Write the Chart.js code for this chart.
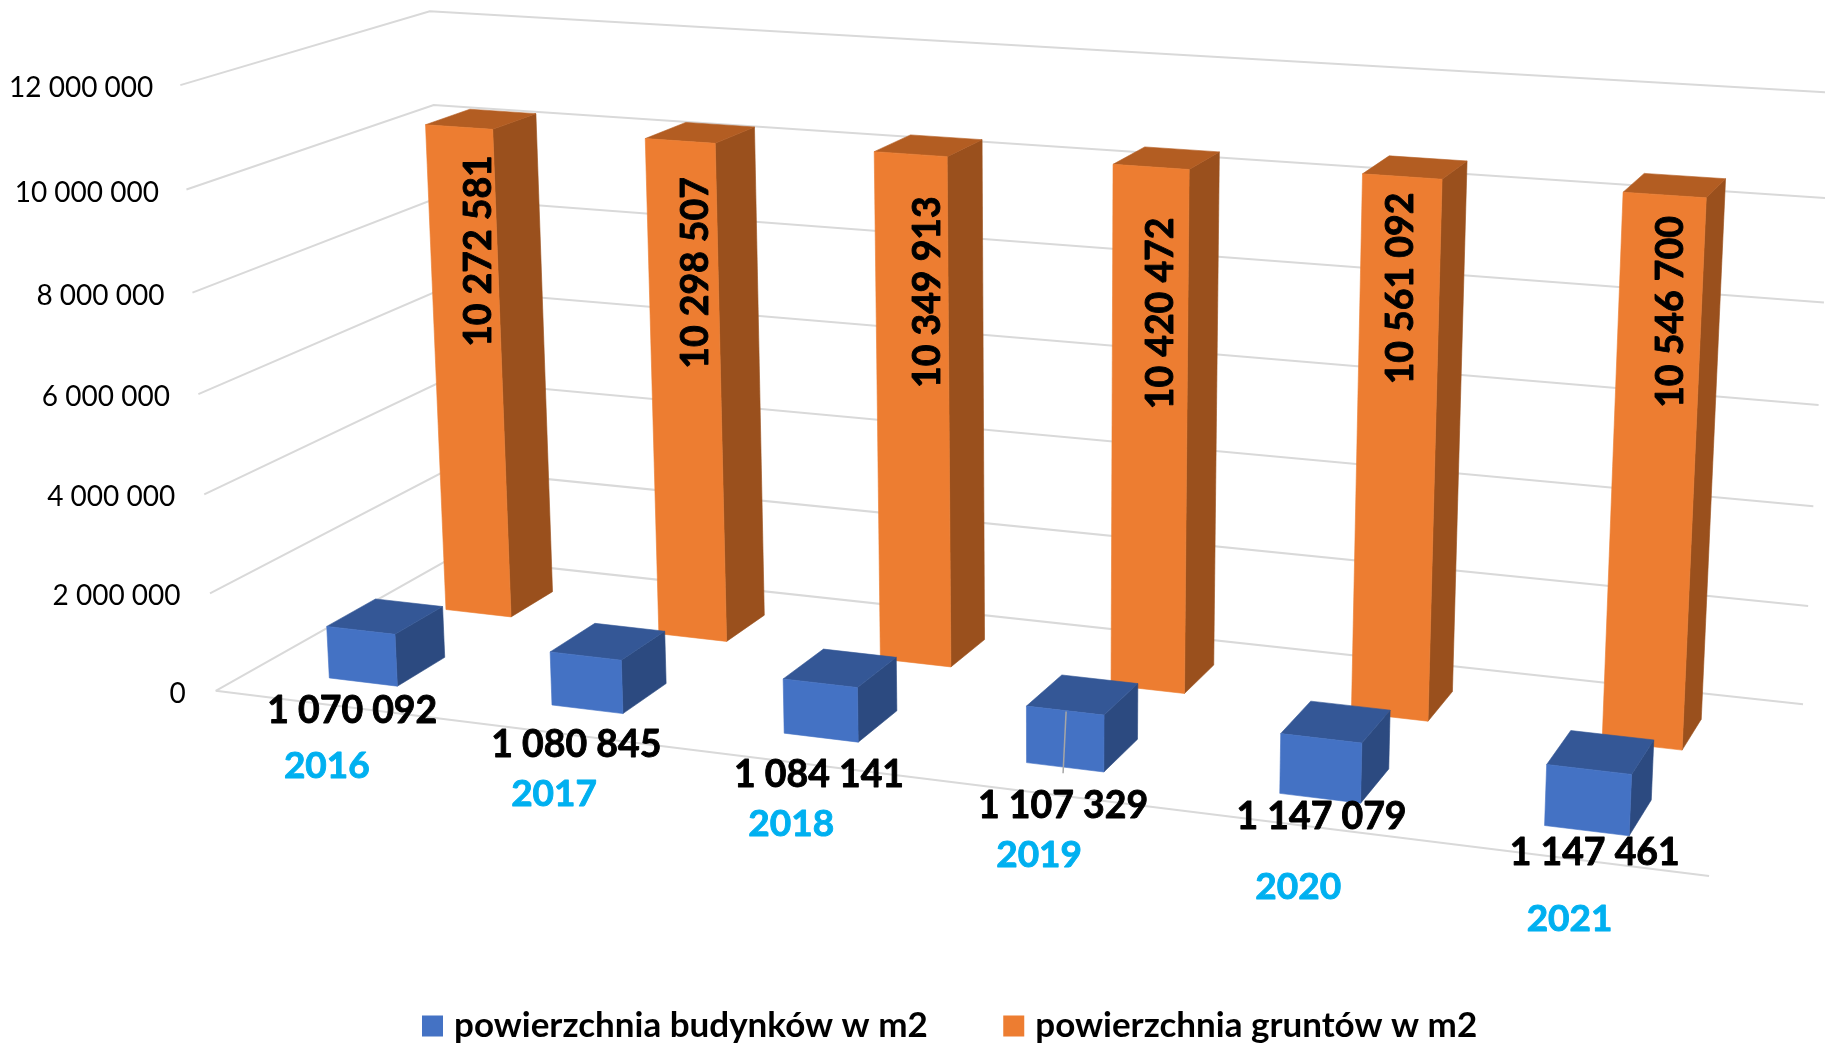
<!DOCTYPE html>
<html lang="pl">
<head>
<meta charset="utf-8">
<title>powierzchnia budynków i gruntów</title>
<style>html,body{margin:0;padding:0;background:#fff}canvas{display:block}</style>
<script src="https://cdn.jsdelivr.net/npm/chart.js@4/dist/chart.umd.js"></script>
</head>
<body>
<canvas id="c" width="1825" height="1044"></canvas>
<script>
const categories = ['2016', '2017', '2018', '2019', '2020', '2021'];
const buildingAreas = [1070092, 1080845, 1084141, 1107329, 1147079, 1147461];
const landAreas = [10272581, 10298507, 10349913, 10420472, 10561092, 10546700];
const seriesNames = ['powierzchnia budynków w m2', 'powierzchnia gruntów w m2'];

// ---- view styling, separate from the data ----
const FONT = 'Lato, Carlito, Calibri, sans-serif';
// camera calibration: box coordinates [x, value, depth] -> screen
const calibration = [
  [0, 0, 0, 215, 691], [1, 0, 0, 1709, 876], [0, 0, 1, 454, 557], [1, 0, 1, 1803, 704],
  [0, 1, 0, 182, 85], [0, 1, 1, 429, 11], [1, 1, 1, 1835, 92.6],
  [0, 0.5, 0, 197.5, 394], [0, 0.5, 1, 440.5, 290], [1, 0.5, 1, 1818.5, 405.5]
];
const blueLabelShift = [[-11, 29], [-11, 36], [-2, 37], [-2, 39], [1.5, 18.5], [8, 22]];
const orangeLabelShift = [[20, 124], [16, 132], [17, 138], [10, 146.5], [-1, 112], [6, 117]];
const yearLabelShift = [[1, 62], [1, 61], [1, 62], [1, 62], [1, 62], [1, 61]];

function solveCamera(pts) {
  const rows = [], rhs = [];
  pts.forEach(([x, y, z, u, v]) => {
    rows.push([x, y, z, 1, 0, 0, 0, 0, -u * x, -u * y, -u * z]); rhs.push(u);
    rows.push([0, 0, 0, 0, x, y, z, 1, -v * x, -v * y, -v * z]); rhs.push(v);
  });
  const n = 11, A = [];
  for (let i = 0; i < n; i++) {
    A.push(new Array(n + 1).fill(0));
    for (let j = 0; j < n; j++) rows.forEach(r => { A[i][j] += r[i] * r[j]; });
    rows.forEach((r, k) => { A[i][n] += r[i] * rhs[k]; });
  }
  for (let c = 0; c < n; c++) {
    let p = c;
    for (let r = c + 1; r < n; r++) if (Math.abs(A[r][c]) > Math.abs(A[p][c])) p = r;
    [A[c], A[p]] = [A[p], A[c]];
    for (let r = 0; r < n; r++) {
      if (r === c) continue;
      const f = A[r][c] / A[c][c];
      for (let j = c; j <= n; j++) A[r][j] -= f * A[c][j];
    }
  }
  return A.map((row, i) => row[n] / row[i]);
}
const cam = solveCamera(calibration);
function project(x, v, z) {
  const w = cam[8] * x + cam[9] * v + cam[10] * z + 1;
  return [(cam[0] * x + cam[1] * v + cam[2] * z + cam[3]) / w,
          (cam[4] * x + cam[5] * v + cam[6] * z + cam[7]) / w];
}
function poly(ctx, pts, fill) {
  ctx.beginPath();
  pts.forEach((p, i) => i ? ctx.lineTo(p[0], p[1]) : ctx.moveTo(p[0], p[1]));
  ctx.closePath();
  ctx.fillStyle = fill;
  ctx.strokeStyle = fill;
  ctx.lineWidth = 0.6;
  ctx.fill();
  ctx.stroke();
}
const spaced = n => String(n).replace(/\B(?=(\d{3})+(?!\d))/g, ' ');
function heavyText(ctx, s, x, y) {
  ctx.lineWidth = 0.9;
  ctx.strokeStyle = ctx.fillStyle;
  ctx.lineJoin = 'round';
  ctx.strokeText(s, x, y);
  ctx.fillText(s, x, y);
}

class Bar3D extends Chart.BarElement {
  static id = 'bar3d';
  corners(area, zr) {
    const { x, y, base, width } = this.getProps(['x', 'y', 'base', 'width'], true);
    const x0 = (x - width / 2 - area.left) / area.width;
    const x1 = (x + width / 2 - area.left) / area.width;
    const v0 = (area.bottom - base) / area.height;
    const v1 = (area.bottom - y) / area.height;
    return { x0, x1, v0, v1, z0: zr[0], z1: zr[1] };
  }
  draw(ctx, area, ds) {
    if (!area) return;
    const c = this.corners(area, ds.depthRange);
    const P = (x, v, z) => project(x, v, z);
    ctx.save();
    poly(ctx, [P(c.x1, c.v0, c.z0), P(c.x1, c.v0, c.z1), P(c.x1, c.v1, c.z1), P(c.x1, c.v1, c.z0)], ds.sideColor);
    poly(ctx, [P(c.x0, c.v1, c.z0), P(c.x1, c.v1, c.z0), P(c.x1, c.v1, c.z1), P(c.x0, c.v1, c.z1)], ds.topColor);
    poly(ctx, [P(c.x0, c.v0, c.z0), P(c.x1, c.v0, c.z0), P(c.x1, c.v1, c.z0), P(c.x0, c.v1, c.z0)], this.options.backgroundColor);
    ctx.restore();
  }
}
class Bar3DController extends Chart.BarController {
  static id = 'bar3d';
  static defaults = Object.assign({}, Chart.BarController.defaults, { dataElementType: 'bar3d' });
  static overrides = Chart.BarController.overrides;
  draw() {
    const area = this.chart.chartArea, ds = this.getDataset();
    this._cachedMeta.data.forEach(el => el.draw(this._ctx, area, ds));
  }
}
Chart.register(Bar3D, Bar3DController);

const gridPlugin = {
  id: 'grid3d',
  beforeDatasetsDraw(chart) {
    const { ctx, chartArea: a, scales: { y } } = chart;
    ctx.save();
    ctx.strokeStyle = '#D9D9D9';
    ctx.lineWidth = 2;
    ctx.lineJoin = 'miter';
    ctx.font = '28px ' + FONT;
    ctx.textAlign = 'right';
    ctx.textBaseline = 'middle';
    y.ticks.forEach(t => {
      const v = (a.bottom - y.getPixelForValue(t.value)) / a.height;
      const f = project(0, v, 0), b = project(0, v, 1), r = project(1, v, 1);
      ctx.beginPath();
      ctx.moveTo(f[0], f[1]); ctx.lineTo(b[0], b[1]); ctx.lineTo(r[0], r[1]);
      ctx.stroke();
      ctx.fillStyle = '#000';
      ctx.fillText(spaced(t.value), f[0] - 27 - 3 * (1 - v), f[1] + 3);
    });
    const s = project(0, 0, 0), e = project(1, 0, 0);
    ctx.beginPath(); ctx.moveTo(s[0], s[1]); ctx.lineTo(e[0], e[1]); ctx.stroke();
    ctx.restore();
  },
  afterDatasetsDraw(chart) {
    const { ctx, chartArea: a, scales: { x } } = chart;
    ctx.save();
    ctx.textAlign = 'center';
    ctx.textBaseline = 'middle';
    const [blue, orange] = chart.data.datasets;
    const faceBase = (el, ds, top) => {
      const c = el.corners(a, ds.depthRange);
      return project((c.x0 + c.x1) / 2, top ? c.v1 : c.v0, c.z0);
    };
    // leader line of the 2019 building label
    const le = chart.getDatasetMeta(0).data[3];
    const lt = faceBase(le, blue, true), lb = faceBase(le, blue, false);
    ctx.strokeStyle = '#A6A6A6'; ctx.lineWidth = 1.5;
    ctx.beginPath(); ctx.moveTo(lt[0] + 1, lt[1] + 1); ctx.lineTo(lb[0] - 2, lb[1] + 6); ctx.stroke();

    ctx.font = 'bold 37.4px ' + FONT;
    ctx.fillStyle = '#000';
    chart.getDatasetMeta(0).data.forEach((el, i) => {
      const p = faceBase(el, blue, false);
      heavyText(ctx, spaced(blue.data[i]), p[0] + blueLabelShift[i][0], p[1] + blueLabelShift[i][1]);
    });
    chart.getDatasetMeta(1).data.forEach((el, i) => {
      const p = faceBase(el, orange, true);
      ctx.save();
      ctx.translate(p[0] + orangeLabelShift[i][0], p[1] + orangeLabelShift[i][1]);
      ctx.rotate(-Math.PI / 2);
      heavyText(ctx, spaced(orange.data[i]), 0, 0);
      ctx.restore();
    });
    ctx.font = 'bold 37px ' + FONT;
    ctx.fillStyle = '#00B0F0';
    categories.forEach((c, i) => {
      const p = project((x.getPixelForValue(i) - a.left) / a.width, 0, 0);
      heavyText(ctx, c, p[0] + yearLabelShift[i][0], p[1] + yearLabelShift[i][1]);
    });
    ctx.restore();
  }
};

new Chart(document.getElementById('c'), {
  type: 'bar3d',
  data: {
    labels: categories,
    datasets: [
      { label: seriesNames[0], data: buildingAreas, backgroundColor: '#4472C4', sideColor: '#2C4A80', topColor: '#345796', depthRange: [0.15, 0.35], clip: false },
      { label: seriesNames[1], data: landAreas, backgroundColor: '#ED7D31', sideColor: '#9A501D', topColor: '#B35D22', depthRange: [0.646, 0.841], clip: false }
    ]
  },
  options: {
    responsive: false,
    animation: false,
    layout: { padding: { left: 80.7, bottom: -9.5 } },
    datasets: { bar3d: { grouped: false, categoryPercentage: 1, barPercentage: 0.31 } },
    scales: {
      x: { type: 'category', offset: true, display: false },
      y: { type: 'linear', min: 0, max: 12000000, display: false, ticks: { stepSize: 2000000 } }
    },
    plugins: {
      tooltip: { enabled: false },
      legend: {
        position: 'bottom',
        labels: {
          boxWidth: 8, boxHeight: 8, padding: 82,
          color: '#000',
          font: { family: FONT, size: 35, weight: 'bold' },
          generateLabels: c => c.data.datasets.map((d, i) => ({
            text: d.label, fillStyle: d.backgroundColor, strokeStyle: d.backgroundColor,
            lineWidth: 13, datasetIndex: i
          }))
        }
      }
    }
  },
  plugins: [gridPlugin]
});
</script>
</body>
</html>
